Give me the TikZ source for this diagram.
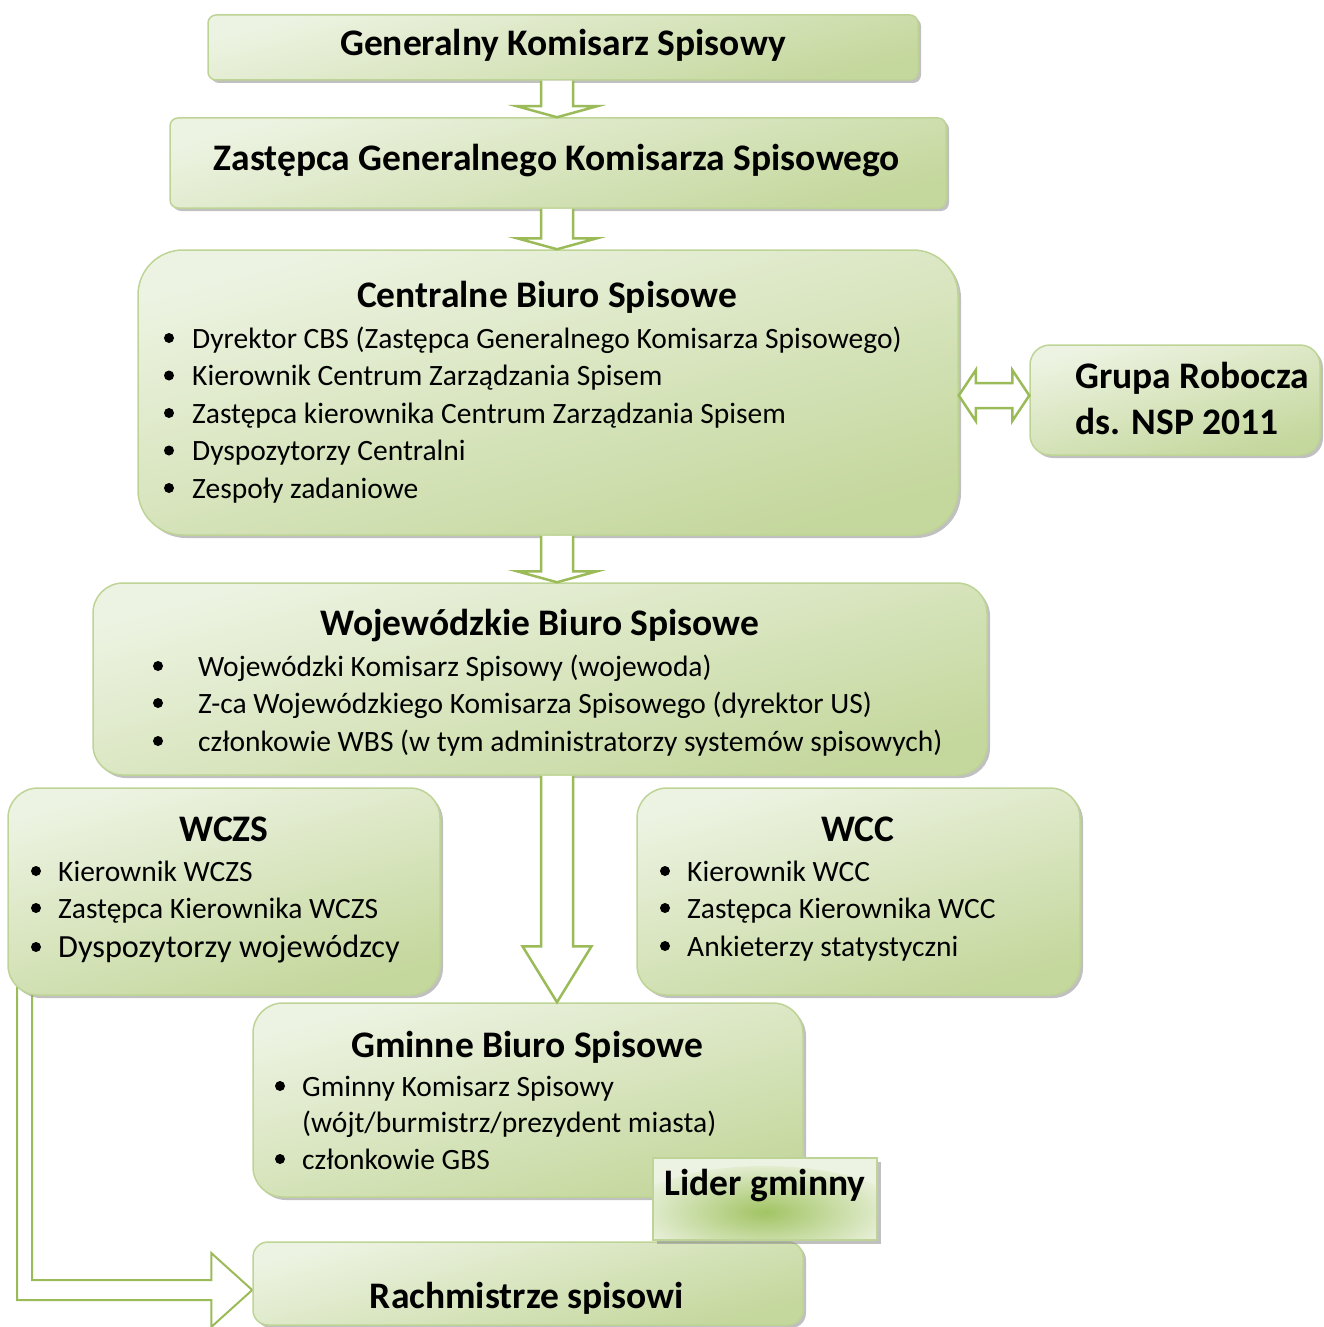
\documentclass[tikz,border=0pt]{standalone}
\usepackage{fontspec}
\setmainfont{Carlito}
\usetikzlibrary{calc,shadows}
\definecolor{lightc}{RGB}{237,243,226}
\definecolor{darkc}{RGB}{196,215,156}
\definecolor{bordc}{RGB}{190,212,150}
\definecolor{arrc}{RGB}{155,187,89}
\definecolor{greenc}{RGB}{162,196,100}
\pgfdeclarelayer{bg}
\pgfdeclarelayer{fg}
\pgfsetlayers{bg,main,fg}
\newcommand\vblock[5]{\draw[barrow] ($(#1)+(-#3,0)$) -- ($(#2)+(-#3,-#5)$) -- ($(#2)+(-#4,-#5)$) -- (#2) -- ($(#2)+(#4,-#5)$) -- ($(#2)+(#3,-#5)$) -- ($(#1)+(#3,0)$);}
\begin{document}
\begin{tikzpicture}[x=1pt,y=-1pt,
 box/.style={draw=bordc, line width=1.5pt, top color=lightc, bottom color=darkc, shading angle=15, inner sep=0pt,
   drop shadow={shadow xshift=3pt, shadow yshift=-3pt, fill=black!45, opacity=.55}},
 ttl/.style={font=\fontsize{37.5}{42}\selectfont\bfseries, anchor=base, inner sep=0pt},
 itm/.style={font=\fontsize{29.5}{35}\selectfont, anchor=base west, inner sep=0pt},
 barrow/.style={draw=arrc, line width=2.5pt, fill=white, line join=miter},
 bul/.style={fill=black}]
\useasboundingbox (0,0) rectangle (1323,1327);

% boxes
\node[box, rounded corners=8pt, minimum width=710, minimum height=65] (gks) at (563,47.5) {};
\node[box, rounded corners=8pt, minimum width=776, minimum height=90] (zg) at (558,163) {};
\node[box, rounded corners=45pt, minimum width=820, minimum height=285] (cbs) at (548,392.5) {};
\node[box, rounded corners=20pt, minimum width=290, minimum height=110] (gr) at (1175,400) {};
\node[box, rounded corners=30pt, minimum width=894, minimum height=192] (wbs) at (540,679) {};
\node[box, rounded corners=30pt, minimum width=432, minimum height=207] (wczs) at (224,891.5) {};
\node[box, rounded corners=30pt, minimum width=443, minimum height=207] (wcc) at (858.5,891.5) {};
\node[box, rounded corners=30pt, minimum width=550, minimum height=194] (gbs) at (528,1100) {};
\node[box, rounded corners=15pt, minimum width=550, minimum height=83] (rach) at (528,1283.5) {};
\node[draw=bordc, line width=1.5pt, fill=lightc, inner sep=0pt, minimum width=224, minimum height=82,
   drop shadow={shadow xshift=4pt, shadow yshift=-4pt, fill=black!45, opacity=.55},
   path picture={\shade[inner color=greenc, outer color=lightc] ($(path picture bounding box.south)+(0,-24)$) ellipse [x radius=140, y radius=50];}]
   (lider) at (765,1199) {};

% texts
\node[ttl] (gkst) at (563,56) {Generalny Komisarz Spisowy};
\node[ttl] (zgt) at (557,170) {Zastępca Generalnego Komisarza Spisowego};

\node[ttl] (cbst) at (547,307) {Centralne Biuro Spisowe};
\node[itm] (cbs1) at (192,348) {Dyrektor CBS (Zastępca Generalnego Komisarza Spisowego)};
\node[itm] (cbs2) at (192,385.5) {Kierownik Centrum Zarządzania Spisem};
\node[itm] (cbs3) at (192,423) {Zastępca kierownika Centrum Zarządzania Spisem};
\node[itm] (cbs4) at (192,460.5) {Dyspozytorzy Centralni};
\node[itm] (cbs5) at (192,498) {Zespoły zadaniowe};
\foreach \y in {348,385.5,423,460.5,498} \fill[bul] (169,\y-10) circle[radius=5pt];

\node[ttl, anchor=base west] (grt1) at (1075,388) {Grupa Robocza};
\node[ttl, anchor=base west] (grt2) at (1075,434) {ds. NSP 2011};

\node[ttl] (wbst) at (540,635) {Wojewódzkie Biuro Spisowe};
\node[itm] (wbs1) at (198,676) {Wojewódzki Komisarz Spisowy (wojewoda)};
\node[itm] (wbs2) at (198,713) {Z-ca Wojewódzkiego Komisarza Spisowego (dyrektor US)};
\node[itm] (wbs3) at (198,751) {członkowie WBS (w tym administratorzy systemów spisowych)};
\foreach \y in {676,713,751} \fill[bul] (158,\y-10) circle[radius=5pt];

\node[ttl] (wczst) at (224,841) {WCZS};
\node[itm] (wczs1) at (58,881) {Kierownik WCZS};
\node[itm] (wczs2) at (58,918) {Zastępca Kierownika WCZS};
\node[itm, font=\fontsize{32.3}{37}\selectfont] (wczs3) at (58,957) {Dyspozytorzy wojewódzcy};
\foreach \y in {881,918,957} \fill[bul] (36,\y-10) circle[radius=5pt];

\node[ttl] (wcct) at (858,841) {WCC};
\node[itm] (wcc1) at (687,881) {Kierownik WCC};
\node[itm] (wcc2) at (687,918) {Zastępca Kierownika WCC};
\node[itm] (wcc3) at (687,956) {Ankieterzy statystyczni};
\foreach \y in {881,918,956} \fill[bul] (665,\y-10) circle[radius=5pt];

\node[ttl] (gbst) at (527,1057) {Gminne Biuro Spisowe};
\node[itm] (gbs1) at (302,1096) {Gminny Komisarz Spisowy};
\node[itm] (gbs1b) at (302,1132) {(wójt/burmistrz/prezydent miasta)};
\node[itm] (gbs2) at (302,1169) {członkowie GBS};
\foreach \y in {1096,1169} \fill[bul] (280,\y-10) circle[radius=5pt];

\node[ttl] (lidert) at (765,1195) {Lider gminny};
\node[ttl] (racht) at (527,1308) {Rachmistrze spisowi};

% connectors
\coordinate (ax) at (557,0);
\coordinate (hy) at (0,395.5);
\coordinate (ty) at (0,1290);
\coordinate (T) at (rach.west |- ty);
\coordinate (wo) at (17,980);
\coordinate (wi) at (32,980);
\begin{pgfonlayer}{fg}
\vblock{gks.south -| ax}{zg.north -| ax}{16}{40}{11}
\vblock{zg.south -| ax}{cbs.north -| ax}{16}{40}{11}
\vblock{cbs.south -| ax}{wbs.north -| ax}{16}{40}{11}
\vblock{wbs.south -| ax}{gbs.north -| ax}{16}{34.5}{56}
\draw[barrow] (cbs.east |- hy) -- ++(17,-25.5) -- ++(0,13) -- ($(gr.west |- hy)+(-17,-12.5)$) -- ++(0,-13)
  -- (gr.west |- hy) -- ++(-17,25.5) -- ++(0,-13) -- ($(cbs.east |- hy)+(17,12.5)$) -- ++(0,13) -- cycle;
\end{pgfonlayer}
\begin{pgfonlayer}{bg}
\draw[barrow, line width=2pt] (wo) -- ($(wo |- T)+(0,10)$) -- ($(T)+(-41,10)$) -- ($(T)+(-41,37)$) -- (T)
  -- ($(T)+(-41,-37)$) -- ($(T)+(-41,-10)$) -- ($(wi |- T)+(0,-10)$) -- (wi);
\end{pgfonlayer}
\end{tikzpicture}
\end{document}
